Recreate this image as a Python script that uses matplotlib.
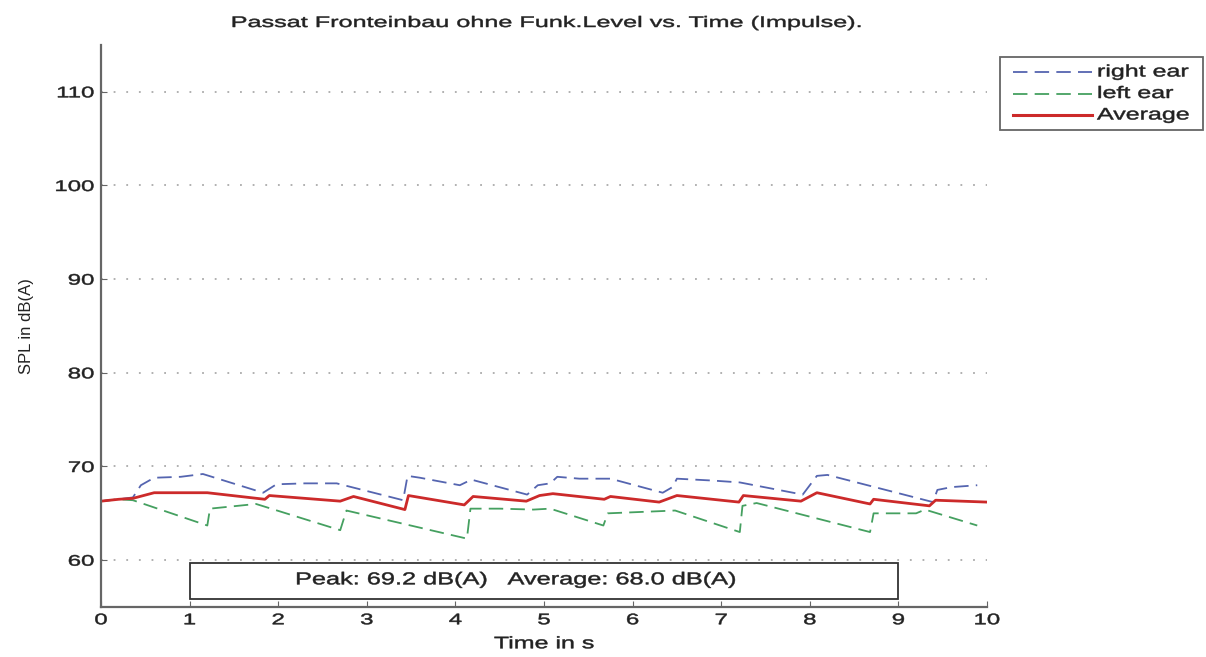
import matplotlib
matplotlib.use("Agg")
import matplotlib.pyplot as plt
from matplotlib.patches import Rectangle
from matplotlib.lines import Line2D
from matplotlib.patheffects import AbstractPathEffect
from matplotlib.transforms import Affine2D

plt.rcParams['font.family'] = ['Liberation Sans', 'DejaVu Sans']

# ---- data ----
right_t = [0.0, 0.2, 0.36, 0.45, 0.6, 0.9, 1.15, 1.83, 1.98, 2.3, 2.66, 3.41, 3.46, 3.6, 4.05, 4.18, 4.81, 4.93, 5.07, 5.15, 5.4, 5.75, 6.34, 6.45, 6.5, 6.9, 7.21, 7.92, 8.08, 8.2, 9.39, 9.44, 9.6, 9.89]
right_v = [66.3, 66.5, 66.7, 68.0, 68.8, 68.9, 69.2, 67.2, 68.1, 68.2, 68.2, 66.4, 69.0, 68.8, 68.0, 68.6, 67.0, 68.0, 68.2, 68.9, 68.7, 68.7, 67.2, 67.8, 68.7, 68.5, 68.3, 67.0, 69.0, 69.1, 66.2, 67.5, 67.8, 68.0]

left_t = [0.0, 0.2, 0.36, 1.2, 1.23, 1.75, 2.70, 2.77, 4.13, 4.17, 4.5, 4.88, 5.07, 5.67, 5.72, 6.48, 7.21, 7.24, 7.4, 8.68, 8.72, 9.2, 9.3, 9.89]
left_v = [66.3, 66.5, 66.4, 63.7, 65.5, 66.0, 63.2, 65.3, 62.3, 65.5, 65.5, 65.4, 65.5, 63.7, 65.0, 65.3, 63.0, 65.8, 66.1, 63.0, 65.0, 65.0, 65.4, 63.7]

avg_t = [0.0, 0.2, 0.36, 0.6, 1.2, 1.85, 1.9, 2.7, 2.85, 3.43, 3.47, 4.1, 4.2, 4.8, 4.95, 5.1, 5.68, 5.75, 6.3, 6.5, 7.2, 7.25, 7.9, 8.08, 8.68, 8.72, 9.35, 9.42, 10.0]
avg_v = [66.3, 66.5, 66.6, 67.2, 67.2, 66.5, 66.9, 66.3, 66.8, 65.4, 66.9, 65.9, 66.8, 66.3, 66.9, 67.1, 66.5, 66.8, 66.2, 66.9, 66.2, 66.9, 66.3, 67.2, 66.0, 66.5, 65.8, 66.4, 66.2]

series_labels = ['right ear', 'left ear', 'Average']
xticks = list(range(0, 11))
yticks = [60, 70, 80, 90, 100, 110]
title = "Passat Fronteinbau ohne Funk.Level vs. Time (Impulse)."
box_text = "Peak: 69.2 dB(A)   Average: 68.0 dB(A)"

W, H = 1206, 657


class HStretch(AbstractPathEffect):
    """Stretch glyphs horizontally (the reference image is horizontally stretched)."""
    def __init__(self, sx=1.5, anchor='center', stroke=0.35):
        super().__init__()
        self.sx = sx
        self.anchor = anchor
        self.stroke = stroke

    def draw_path(self, renderer, gc, tpath, affine, rgbFace=None):
        ext = tpath.get_extents()
        if self.anchor == 'left':
            cx = 0.0
        elif self.anchor == 'right':
            cx = ext.x1
        else:
            cx = 0.5 * (ext.x0 + ext.x1)
        t = Affine2D().translate(-cx, 0).scale(self.sx, 1).translate(cx, 0)
        gc0 = renderer.new_gc()
        gc0.copy_properties(gc)
        if rgbFace is not None and self.stroke > 0:
            gc0.set_foreground(rgbFace)
            gc0.set_linewidth(self.stroke)
        renderer.draw_path(gc0, tpath, t + affine, rgbFace)
        gc0.restore()


def fx(px):
    return px / W


def fy(py):
    return 1 - py / H


fig = plt.figure(figsize=(W / 100, H / 100), dpi=100)
ax = fig.add_axes([fx(101), fy(607), (987 - 101) / W, (607 - 45) / H])

c_right = '#5565b0'
c_left = '#45a060'
c_avg = '#cc2a2a'
dash = (0, (8, 4))

ax.plot(right_t, right_v, color=c_right, lw=1.3, ls=dash)
ax.plot(left_t, left_v, color=c_left, lw=1.3, ls=dash)
ax.plot(avg_t, avg_v, color=c_avg, lw=2.0)

ax.set_xlim(0, 10)
ax.set_ylim(55, 115)
ax.set_xticks(xticks)
ax.set_yticks(yticks)
ax.grid(axis='y', ls=(0, (1, 6)), color='#aaaaaa', lw=1.3)
ax.set_axisbelow(True)
for s in ['top', 'right']:
    ax.spines[s].set_visible(False)
for s in ['left', 'bottom']:
    ax.spines[s].set_color('#666666')
    ax.spines[s].set_linewidth(1.6)
ax.tick_params(direction='in', length=4, colors='#666666', labelcolor='#222222', labelsize=11)
ax.tick_params(axis='y', pad=5)
ax.tick_params(axis='x', pad=4.5)
for lab in ax.get_yticklabels():
    lab.set_path_effects([HStretch(1.57, 'right')])
for lab in ax.get_xticklabels():
    lab.set_path_effects([HStretch(1.57, 'center')])

xl = ax.set_xlabel('Time in s', fontsize=12, color='#222222', labelpad=6.5)
xl.set_path_effects([HStretch(1.5, 'center')])
ax.set_ylabel('SPL in dB(A)', fontsize=12, color='#222222', labelpad=25)

fig.text(fx(546), fy(27), title, fontsize=11, color='#222222', ha='center', va='baseline',
         path_effects=[HStretch(1.65, 'center')])

ax.add_patch(Rectangle((1, 55.9), 8, 3.8, fill=False, ec='#333333', lw=1.3, zorder=5))
ax.text(2.19, 57.9, box_text, fontsize=12.4, va='center', ha='left', color='#222222', zorder=6,
        path_effects=[HStretch(1.47, 'left')])

# legend (outside the axes, upper right)
fig.add_artist(Rectangle((fx(1000), fy(130)), (1203 - 1000) / W, (130 - 57) / H,
                         transform=fig.transFigure, fill=True, fc='white', ec='#666666', lw=1.3))
rows = [72, 93.5, 115]
styles = [(c_right, dash, 1.3), (c_left, dash, 1.3), (c_avg, '-', 2.2)]
for (col, ls, lw), lab, py in zip(styles, series_labels, rows):
    fig.add_artist(Line2D([fx(1013), fx(1092)], [fy(py), fy(py)], transform=fig.transFigure,
                          color=col, ls=ls, lw=lw))
    fig.text(fx(1097), fy(py), lab, fontsize=12, color='#222222', ha='left', va='center',
             path_effects=[HStretch(1.5, 'left')])

fig.savefig('out.png', dpi=100)
